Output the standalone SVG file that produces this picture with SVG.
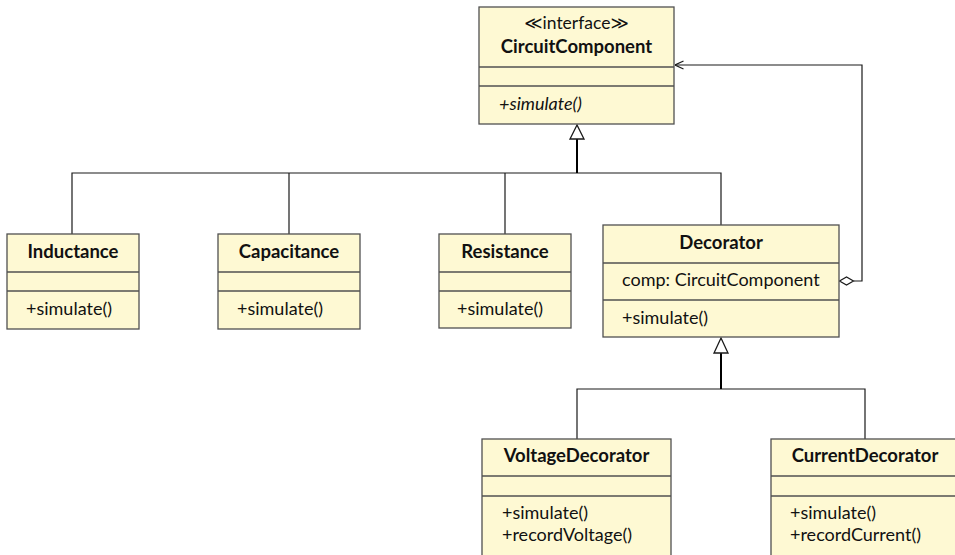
<svg xmlns="http://www.w3.org/2000/svg" width="955" height="555" viewBox="0 0 955 555">
  <style>
    .box { fill: #fef9d3; stroke: #505050; stroke-width: 1.3; }
    .sep { stroke: #505050; stroke-width: 1.3; fill: none; }
    .edge { stroke: #1a1a1a; stroke-width: 1.2; fill: none; }
    .thick { stroke: #000; stroke-width: 2; fill: none; }
    text { font-family: "Lato", "DejaVu Sans", sans-serif; font-size: 18px; fill: #111; }
    .title { font-weight: bold; text-anchor: middle; font-size: 18.5px; }
    .stereo { text-anchor: middle; font-size: 17.5px; }
    .ital { font-style: italic; }
  </style>
  <defs>
    <marker id="open" viewBox="0 0 10 10" refX="9.5" refY="5" markerWidth="10" markerHeight="10" markerUnits="userSpaceOnUse" orient="auto">
      <path d="M1,1 L9.5,5 L1,9" fill="none" stroke="#1a1a1a" stroke-width="1.2"/>
    </marker>
  </defs>

  <!-- connectors -->
  <g id="connectors">
    <!-- generalization to CircuitComponent -->
    <path class="edge" d="M72,234 V173 H721 V225"/>
    <path class="edge" d="M289,234 V173"/>
    <path class="edge" d="M505,234 V173"/>
    <path class="thick" d="M577,173 V139"/>
    <path d="M577,125 L570,139 H584 Z" fill="#fff" stroke="#1a1a1a" stroke-width="1.3"/>
    <!-- aggregation: Decorator.comp -> CircuitComponent -->
    <path d="M839.5,281 L846.5,277 L853.5,281 L846.5,285 Z" fill="#fff" stroke="#1a1a1a" stroke-width="1.2"/>
    <path class="edge" d="M853.5,281 H862 V65 H675" marker-end="url(#open)"/>
    <!-- generalization to Decorator -->
    <path class="edge" d="M577,439 V389 H865 V439"/>
    <path class="thick" d="M721,389 V353"/>
    <path d="M721,338 L714,353 H728 Z" fill="#fff" stroke="#1a1a1a" stroke-width="1.3"/>
  </g>

  <g id="CircuitComponent">
    <rect class="box" x="479" y="7" width="195" height="117"/>
    <line class="sep" x1="479" y1="67" x2="674" y2="67"/>
    <line class="sep" x1="479" y1="86" x2="674" y2="86"/>
    <text class="stereo" x="576.5" y="29">≪interface≫</text>
    <text class="title" x="576.5" y="53">CircuitComponent</text>
    <text class="ital" x="499" y="110">+simulate()</text>
  </g>

  <g id="Inductance">
    <rect class="box" x="7" y="234" width="132" height="95"/>
    <line class="sep" x1="7" y1="272" x2="139" y2="272"/>
    <line class="sep" x1="7" y1="291" x2="139" y2="291"/>
    <text class="title" x="73" y="258">Inductance</text>
    <text x="26" y="315">+simulate()</text>
  </g>

  <g id="Capacitance">
    <rect class="box" x="218" y="234" width="142" height="95"/>
    <line class="sep" x1="218" y1="272" x2="360" y2="272"/>
    <line class="sep" x1="218" y1="291" x2="360" y2="291"/>
    <text class="title" x="289" y="258">Capacitance</text>
    <text x="237" y="315">+simulate()</text>
  </g>

  <g id="Resistance">
    <rect class="box" x="439" y="234" width="132" height="94"/>
    <line class="sep" x1="439" y1="272" x2="571" y2="272"/>
    <line class="sep" x1="439" y1="291" x2="571" y2="291"/>
    <text class="title" x="505" y="258">Resistance</text>
    <text x="457" y="315">+simulate()</text>
  </g>

  <g id="Decorator">
    <rect class="box" x="603" y="225" width="236" height="112"/>
    <line class="sep" x1="603" y1="263" x2="839" y2="263"/>
    <line class="sep" x1="603" y1="300" x2="839" y2="300"/>
    <text class="title" x="721" y="249">Decorator</text>
    <text x="622" y="286">comp: CircuitComponent</text>
    <text x="622" y="324">+simulate()</text>
  </g>

  <g id="VoltageDecorator">
    <rect class="box" x="482" y="439" width="189" height="130"/>
    <line class="sep" x1="482" y1="476" x2="671" y2="476"/>
    <line class="sep" x1="482" y1="496" x2="671" y2="496"/>
    <text class="title" x="576.5" y="462">VoltageDecorator</text>
    <text x="502" y="519">+simulate()</text>
    <text x="502" y="541">+recordVoltage()</text>
  </g>

  <g id="CurrentDecorator">
    <rect class="box" x="771" y="439" width="189" height="130"/>
    <line class="sep" x1="771" y1="476" x2="960" y2="476"/>
    <line class="sep" x1="771" y1="496" x2="960" y2="496"/>
    <text class="title" x="865" y="462">CurrentDecorator</text>
    <text x="790" y="519">+simulate()</text>
    <text x="790" y="541">+recordCurrent()</text>
  </g>
</svg>
